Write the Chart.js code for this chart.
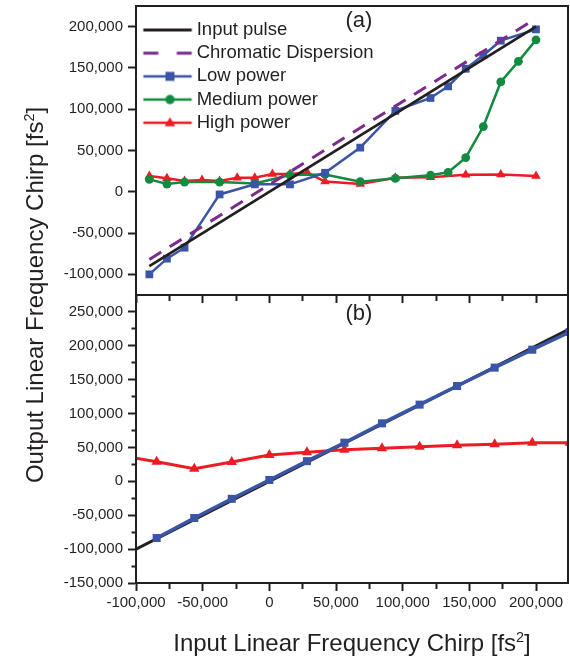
<!DOCTYPE html>
<html>
<head>
<meta charset="utf-8">
<script src="https://cdn.jsdelivr.net/npm/chart.js@4.4.1/dist/chart.umd.min.js"></script>
<style>
html,body{margin:0;padding:0;background:#fff;}
#wrap{position:relative;width:570px;height:657px;overflow:hidden;font-family:'Liberation Sans',Arial,Helvetica,sans-serif;color:#231f20;}
#wrap canvas{position:absolute;left:0;top:0;}
.lbl{position:absolute;white-space:nowrap;text-align:center;}
.lbl sup{font-size:0.6em;vertical-align:0.62em;line-height:0;}
</style>
</head>
<body>
<div id="wrap">
  <canvas id="cB" width="570" height="657"></canvas>
  <canvas id="cA" width="570" height="657"></canvas>
  <div class="lbl" style="left:309px;top:7px;width:100px;font-size:22px;line-height:26px;">(a)</div>
  <div class="lbl" style="left:309px;top:300px;width:100px;font-size:22px;line-height:26px;">(b)</div>
  <div class="lbl" style="left:152px;top:629px;width:400px;font-size:24px;line-height:28px;">Input Linear Frequency Chirp [fs<sup>2</sup>]</div>
  <div class="lbl" style="left:-165px;top:281px;width:400px;font-size:24px;line-height:28px;transform:rotate(-90deg);">Output Linear Frequency Chirp [fs<sup>2</sup>]</div>
</div>
<script>
// ---------------- data ----------------
const xTickValues = [-100000,-75000,-50000,-25000,0,25000,50000,75000,100000,125000,150000,175000,200000];
const yTickValuesA = [-100000,-50000,0,50000,100000,150000,200000];
const yTickValuesB = [-150000,-125000,-100000,-75000,-50000,-25000,0,25000,50000,75000,100000,125000,150000,175000,200000,225000,250000];

const seriesNames = ['Input pulse','Chromatic Dispersion','Low power','Medium power','High power'];

// panel (a)
const aInputX = [-90000, 200000];
const aInputY = [-90000, 200000];
const aDispX  = [-90000, 200000];
const aDispY  = [-82000, 210000];
const aLowX  = [-90000,-76800,-63600,-37300,-10900,15500,41800,68200,94500,120900,134100,147300,160500,173600,200000];
const aLowY  = [-100000,-81000,-67700,-3200,9000,9000,23000,53500,98000,113600,127700,149000,165400,183000,196700];
const aMedX  = [-90000,-76800,-63600,-37300,-10900,15500,41800,68200,94500,120900,134100,147300,160500,173600,186800,200000];
const aMedY  = [15000,9400,11800,11800,10000,20300,21000,12200,16300,20000,23600,41400,79000,133000,158000,184000];
const aHighX = [-90000,-76800,-63600,-50500,-37300,-24100,-10900,2300,15500,28600,41800,68200,94500,120900,147300,173600,200000];
const aHighY = [19000,16500,13000,14400,13000,17000,17000,21400,21500,23000,12400,9500,17000,17500,20500,21000,19000];

// panel (b)
const bInputX = [-100000, 225000];
const bInputY = [-100000, 225000];
const bLowX  = [-84500,-56300,-28200,0,28200,56300,84500,112700,140800,169000,197200,225300];
const bLowY  = [-83600,-54100,-25800,2000,29800,57000,85600,113200,140700,167800,194300,220400];
const bHighX = [-112700,-84500,-56300,-28200,0,28200,56300,84500,112700,140800,169000,197200,225300];
const bHighY = [38000,29000,18600,28500,38900,42800,46700,48700,51200,53100,54600,57000,57000];

// ---------------- styling ----------------
const FONT = "'Liberation Sans', Arial, Helvetica, sans-serif";
const INK = '#231f20';
const COL = {black:'#231f20', purple:'#7b2b8c', blue:'#3a55a5', green:'#128a40', red:'#ec1c24'};

const pts = (xs, ys) => xs.map((x, i) => ({x: x, y: ys[i]}));
const fmt = v => v.toLocaleString('en-US');
const isMajor = v => v % 50000 === 0;

function fixedSize(w, h) {
  return function(scale) {
    if (w != null) scale.width = w;
    if (h != null) scale.height = h;
    scale.paddingTop = 0; scale.paddingBottom = 0; scale.paddingLeft = 0; scale.paddingRight = 0;
  };
}
function setTicks(values) {
  return function(scale) { scale.ticks = values.map(v => ({value: v})); };
}

function xAxis(showLabels, height) {
  return {
    type: 'linear', position: 'bottom', min: -100000, max: 224000, z: 1,
    afterBuildTicks: setTicks(xTickValues),
    afterFit: fixedSize(null, height),
    border: {display: true, color: INK, width: 2},
    grid: {display: true, drawOnChartArea: false, drawTicks: true, tickLength: 8, tickWidth: 2, tickColor: INK,
      tickBorderDash: ctx => (ctx.tick && !isMajor(ctx.tick.value)) ? [5, 40] : []},
    ticks: {display: showLabels, autoSkip: false, maxRotation: 0, minRotation: 0, padding: 3, color: INK,
      font: {family: FONT, size: 15}, callback: v => isMajor(v) ? fmt(v) : ''}
  };
}
function yAxis(min, max, tickVals) {
  return {
    type: 'linear', position: 'left', min: min, max: max, z: 1,
    afterBuildTicks: setTicks(tickVals),
    afterFit: fixedSize(136, null),
    border: {display: true, color: INK, width: 2},
    grid: {display: true, drawOnChartArea: false, drawTicks: true, tickLength: 8, tickWidth: 2, tickColor: INK,
      tickBorderDash: ctx => (ctx.tick && !isMajor(ctx.tick.value)) ? [0, 3.5, 40] : []},
    ticks: {autoSkip: false, padding: 5, color: INK, font: {family: FONT, size: 15},
      callback: v => isMajor(v) ? fmt(v) : ''}
  };
}

function lineDS(label, xs, ys, color, width, extra) {
  return Object.assign({
    label: label, data: pts(xs, ys), borderColor: color, backgroundColor: color,
    borderWidth: width, pointRadius: 0, pointHoverRadius: 0, pointBackgroundColor: color,
    pointBorderColor: color, pointBorderWidth: 0, tension: 0, fill: false, clip: 0
  }, extra || {});
}

const framePlugin = {
  id: 'frame',
  afterDraw(chart) {
    const a = chart.chartArea, g = chart.ctx;
    g.save(); g.strokeStyle = INK; g.lineWidth = 2;
    g.strokeRect(a.left, a.top, a.right - a.left, a.bottom - a.top);
    g.restore();
  }
};

// legend icons (line + marker samples)
function makeIcon(color, lw, dash, marker) {
  const c = document.createElement('canvas'); c.width = 60; c.height = 16;
  const g = c.getContext('2d');
  g.strokeStyle = color; g.fillStyle = color; g.lineWidth = lw; g.setLineDash(dash);
  g.beginPath(); g.moveTo(9.85, 8); g.lineTo(58.25, 8); g.stroke(); g.setLineDash([]);
  const mx = 36.5, my = 8;
  if (marker === 'rect') { g.fillRect(mx - 4.5, my - 4.5, 9, 9); }
  else if (marker === 'circle') { g.beginPath(); g.arc(mx, my, 4.7, 0, Math.PI * 2); g.fill(); }
  else if (marker === 'triangle') { g.beginPath(); g.moveTo(mx, my - 5.5); g.lineTo(mx + 5.3, my + 3.6); g.lineTo(mx - 5.3, my + 3.6); g.closePath(); g.fill(); }
  return c;
}
const legendIcons = [
  makeIcon(COL.black, 3, [], null),
  makeIcon(COL.purple, 3, [15, 18.4], null),
  makeIcon(COL.blue, 2.6, [], 'rect'),
  makeIcon(COL.green, 2.6, [], 'circle'),
  makeIcon(COL.red, 2.6, [], 'triangle')
];

const legendPlace = {
  id: 'legendPlace',
  afterLayout(chart) {
    const lg = chart.legend; if (!lg) return;
    const w = lg.width;
    lg.left = 134.75; lg.right = lg.left + w;
    lg.top = 16; lg.bottom = lg.top + 220;
  }
};

const common = {
  responsive: false, maintainAspectRatio: false, animation: false, devicePixelRatio: 1, events: []
};

// ---------------- chart (a) ----------------
new Chart(document.getElementById('cA'), {
  type: 'line',
  data: {
    datasets: [
      lineDS(seriesNames[0], aInputX, aInputY, COL.black, 2.8),
      lineDS(seriesNames[1], aDispX, aDispY, COL.purple, 3, {borderDash: [14, 10]}),
      lineDS(seriesNames[2], aLowX, aLowY, COL.blue, 2.5, {pointStyle: 'rect', pointRadius: 5.5}),
      lineDS(seriesNames[3], aMedX, aMedY, COL.green, 2.5, {pointStyle: 'circle', pointRadius: 4.4}),
      lineDS(seriesNames[4], aHighX, aHighY, COL.red, 2.5, {pointStyle: 'triangle', pointRadius: 5.5})
    ]
  },
  options: Object.assign({}, common, {
    layout: {autoPadding: false, padding: {top: 6, right: 2, bottom: 354, left: 0}},
    scales: {x: xAxis(false, 8), y: yAxis(-125000, 225000, yTickValuesA)},
    plugins: {
      tooltip: {enabled: false},
      title: {display: false},
      legend: {
        display: true, position: 'chartArea', align: 'start',
        labels: {
          usePointStyle: true, pointStyleWidth: 48, padding: 4.7, color: INK,
          font: {family: FONT, size: 18.5},
          generateLabels(chart) {
            const items = Chart.defaults.plugins.legend.labels.generateLabels(chart);
            items.forEach(it => { it.pointStyle = legendIcons[it.datasetIndex]; });
            return items;
          }
        }
      }
    }
  }),
  plugins: [framePlugin, legendPlace]
});

// ---------------- chart (b) ----------------
new Chart(document.getElementById('cB'), {
  type: 'line',
  data: {
    datasets: [
      lineDS(seriesNames[2], bLowX, bLowY, COL.blue, 3.5, {pointStyle: 'rect', pointRadius: 5.7}),
      lineDS(seriesNames[4], bHighX, bHighY, COL.red, 3, {pointStyle: 'triangle', pointRadius: 6}),
      lineDS(seriesNames[0], bInputX, bInputY, COL.black, 3)
    ]
  },
  options: Object.assign({}, common, {
    layout: {autoPadding: false, padding: {top: 295, right: 2, bottom: 0, left: 0}},
    scales: {x: xAxis(true, 74), y: yAxis(-150000, 275000, yTickValuesB)},
    plugins: {tooltip: {enabled: false}, legend: {display: false}, title: {display: false}}
  }),
  plugins: [framePlugin]
});
</script>
</body>
</html>
